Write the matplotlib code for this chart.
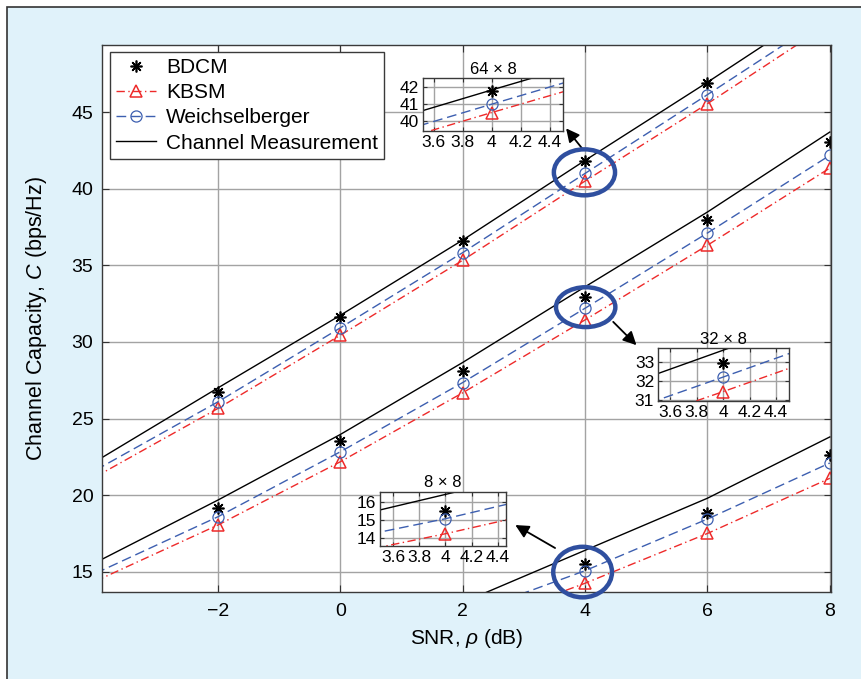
import matplotlib.pyplot as plt
from matplotlib.patches import Ellipse, Rectangle

plt.rcParams['font.family'] = ['Liberation Sans', 'DejaVu Sans']
plt.rcParams['mathtext.fontset'] = 'custom'
plt.rcParams['mathtext.it'] = 'Liberation Sans:italic'
plt.rcParams['mathtext.rm'] = 'Liberation Sans'

# SNR points (dB)
snr = [-4, -2, 0, 2, 4, 6, 8]

# 64 x 8
meas_64 = [22.2, 27.0, 31.74, 36.65, 41.85, 46.95, 52.2]
bdcm_64 = [22.0, 26.75, 31.65, 36.6, 41.8, 46.9, 52.0]
kbsm_64 = [21.2, 25.66, 30.44, 35.33, 40.5, 45.55, 50.8]
weich_64 = [21.63, 26.09, 30.92, 35.83, 41.0, 46.14, 51.36]

# 32 x 8
meas_32 = [15.6, 19.68, 23.96, 28.66, 33.6, 38.48, 43.7]
bdcm_32 = [15.2, 19.17, 23.53, 28.11, 32.95, 37.94, 43.05]
kbsm_32 = [14.39, 18.05, 22.18, 26.68, 31.44, 36.31, 41.35]
weich_32 = [14.9, 18.59, 22.83, 27.35, 32.2, 37.11, 42.18]

# 8 x 8
meas_8 = [4.0, 7.0, 10.0, 13.0, 16.4, 19.8, 23.8]
bdcm_8 = [3.6, 6.5, 9.4, 12.4, 15.5, 18.85, 22.6]
kbsm_8 = [3.0, 5.8, 8.5, 11.3, 14.25, 17.5, 21.1]
weich_8 = [3.4, 6.3, 9.2, 12.15, 15.07, 18.44, 22.1]

groups = [(meas_64, bdcm_64, kbsm_64, weich_64),
          (meas_32, bdcm_32, kbsm_32, weich_32),
          (meas_8, bdcm_8, kbsm_8, weich_8)]

RED = '#ee2a2a'
BLUE = '#3d5fb0'
ELL = '#2f4f9f'
STAR = (8, 2, 0)


def draw_series(ax, labels=True):
    for i, (meas, bdcm, kbsm, weich) in enumerate(groups):
        first = labels and i == 0
        ax.plot(snr[1:], bdcm[1:], linestyle='none', marker=STAR, color='black',
                markersize=8.5, mew=1.2, label='BDCM' if first else None)
        ax.plot(snr, kbsm, color=RED, lw=1.0, dashes=(6, 2.5, 1, 2.5), marker='^',
                markevery=range(1, 7), markersize=9, mfc='none', mew=1.1,
                label='KBSM' if first else None)
        ax.plot(snr, weich, color=BLUE, lw=1.0, dashes=(7, 3.5), marker='o',
                markevery=range(1, 7), markersize=8, mfc='none', mew=0.9,
                label='Weichselberger' if first else None)
        ax.plot(snr, meas, color='black', lw=1.0,
                label='Channel Measurement' if first else None)


def style_axes(ax, size):
    ax.grid(True, color='#a3a3a3', lw=1.0)
    ax.set_axisbelow(True)
    ax.tick_params(direction='in', top=True, right=True, length=5,
                   labelsize=size, color='#333333', pad=6)
    for s in ax.spines.values():
        s.set_color('#3a3a3a')
        s.set_linewidth(1.0)


fig = plt.figure(figsize=(8.61, 6.79), dpi=100)
fig.patch.set_facecolor('white')
fig.patches.append(Rectangle((7 / 861, -0.02), 1.0, 1 - 7 / 679 + 0.02,
                             transform=fig.transFigure, facecolor='#e0f2fa',
                             edgecolor='#333333', lw=1.2, zorder=-10))

ax = fig.add_axes([0.1181, 0.1286, 0.8471, 0.8051])
draw_series(ax)
ax.set_xlim(-3.9, 8.02)
ax.set_ylim(13.7, 49.38)
ax.set_xticks([-2, 0, 2, 4, 6, 8])
ax.set_xticklabels(['\u22122', '0', '2', '4', '6', '8'])
ax.set_yticks([15, 20, 25, 30, 35, 40, 45])
style_axes(ax, 14)
ax.tick_params(axis='x', pad=8)
ax.set_xlabel(r'SNR, $\mathit{\rho}$ (dB)', fontsize=15, labelpad=5)
ax.set_ylabel(r'Channel Capacity, $\mathit{C}$ (bps/Hz)', fontsize=15.5, labelpad=16)

leg = ax.legend(loc='upper left', bbox_to_anchor=(0.0114, 0.9877), borderaxespad=0,
                fontsize=15, fancybox=False, framealpha=1, edgecolor='#3a3a3a',
                handlelength=1.9, handletextpad=0.5, labelspacing=0.3, borderpad=0.3)
leg.get_frame().set_linewidth(1.0)

# highlight ellipses around SNR = 4 dB
for cx, cy, w, h in [(3.99, 41.07, 1.0, 3.0), (4.01, 32.27, 0.97, 2.6),
                     (3.96, 14.98, 0.96, 3.3)]:
    ax.add_patch(Ellipse((cx, cy), w, h, fill=False, edgecolor=ELL, lw=3.2,
                         clip_on=False, zorder=5))

# arrows to insets
for tail, head in [((3.95, 42.64), (3.69, 43.94)), ((4.46, 31.31), (4.84, 29.79)),
                   ((3.51, 16.55), (2.86, 18.05))]:
    ax.annotate('', xy=head, xytext=tail,
                arrowprops=dict(arrowstyle='-|>', color='black', lw=1.3,
                                mutation_scale=20, shrinkA=0, shrinkB=0))

# zoomed insets
insets = [([0.4917, 0.8071, 0.1619, 0.0776], (3.53, 4.49), (39.4, 42.55), [40, 41, 42], '64 \u00d7 8'),
          ([0.7646, 0.4094, 0.1521, 0.0785], (3.51, 4.5), (30.95, 33.73), [31, 32, 33], '32 \u00d7 8'),
          ([0.4413, 0.1959, 0.1460, 0.0800], (3.5, 4.46), (13.58, 16.55), [14, 15, 16], '8 \u00d7 8')]
for rect, xl, yl, yt, title in insets:
    ins = fig.add_axes(rect)
    draw_series(ins, labels=False)
    ins.set_xlim(*xl)
    ins.set_ylim(*yl)
    ins.set_xticks([3.6, 3.8, 4.0, 4.2, 4.4])
    ins.set_xticklabels(['3.6', '3.8', '4', '4.2', '4.4'])
    ins.set_yticks(yt)
    style_axes(ins, 12.5)
    ins.tick_params(length=3, pad=3)
    ins.set_title(title, fontsize=12, pad=3)

fig.savefig('out.png', dpi=100)
